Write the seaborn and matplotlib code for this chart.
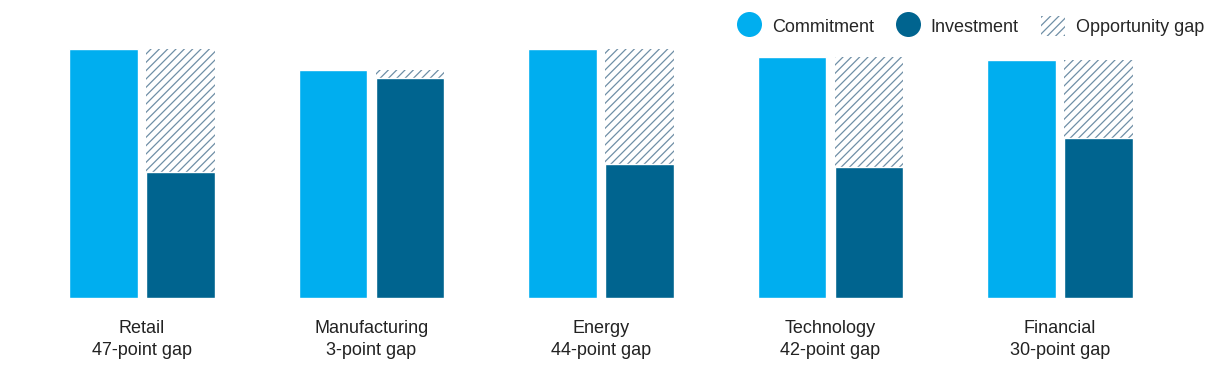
import numpy as np
import pandas as pd
import matplotlib.pyplot as plt
import seaborn as sns
from matplotlib.lines import Line2D
from matplotlib.patches import Patch

# chart data
sectors = ['Retail', 'Manufacturing', 'Energy', 'Technology', 'Financial']
gap_labels = ['47-point gap', '3-point gap', '44-point gap', '42-point gap', '30-point gap']
commitment = [95, 87, 95, 92, 91]
investment = [48, 84, 51, 50, 61]

c_commit = '#00AEEF'
c_invest = '#00648F'
c_hatch = '#6F8FA6'

sns.set_style('white')
plt.rcParams['font.family'] = ['Liberation Sans', 'DejaVu Sans']
plt.rcParams['hatch.linewidth'] = 0.9

df_top = pd.DataFrame({
    'sector': sectors * 2,
    'series': ['Commitment'] * 5 + ['Investment'] * 5,
    'value': commitment + commitment,
})
df = pd.DataFrame({
    'sector': sectors * 2,
    'series': ['Commitment'] * 5 + ['Investment'] * 5,
    'value': commitment + investment,
})

fig = plt.figure(figsize=(12.2, 3.88), dpi=100)
ax = fig.add_axes([0, 90 / 388, 1, 298 / 388])

# hatched layer (opportunity gap reaches up to commitment level)
sns.barplot(data=df_top, x='sector', y='value', hue='series',
            palette={'Commitment': c_commit, 'Investment': 'white'},
            width=0.671, gap=0.104, saturation=1, errorbar=None,
            legend=False, ax=ax)
for p in ax.containers[1]:
    p.set_hatch('////')
    p.set_edgecolor(c_hatch)
    p.set_linewidth(0)

# solid bars on top
sns.barplot(data=df, x='sector', y='value', hue='series',
            palette={'Commitment': c_commit, 'Investment': c_invest},
            width=0.671, gap=0.104, saturation=1, errorbar=None,
            legend=False, ax=ax)

ax.set_xlim(-142 / 229.5, 4 + (1220 - 1060) / 229.5)
ax.set_ylim(0, 298 / 2.62)
ax.set_xticks(range(len(sectors)))
ax.set_xticklabels([f'{s}\n{g}' for s, g in zip(sectors, gap_labels)],
                   fontsize=13, color='#222222', linespacing=1.35)
ax.tick_params(axis='x', length=0, pad=16)
ax.set_yticks([])
ax.set_xlabel('')
ax.set_ylabel('')
sns.despine(ax=ax, left=True, bottom=True)

handles = [
    Line2D([], [], marker='o', linestyle='', markersize=18,
           markerfacecolor=c_commit, markeredgewidth=0, label='Commitment'),
    Line2D([], [], marker='o', linestyle='', markersize=18,
           markerfacecolor=c_invest, markeredgewidth=0, label='Investment'),
    Patch(facecolor='white', edgecolor=c_hatch, hatch='////', linewidth=0,
          label='Opportunity gap'),
]
fig.legend(handles=handles, loc='upper right', bbox_to_anchor=(1.0, 1.0),
           ncol=3, frameon=False, fontsize=13, handlelength=1.3,
           handleheight=1.3, handletextpad=0.6, columnspacing=1.25)

fig.savefig('out.png', dpi=100)
